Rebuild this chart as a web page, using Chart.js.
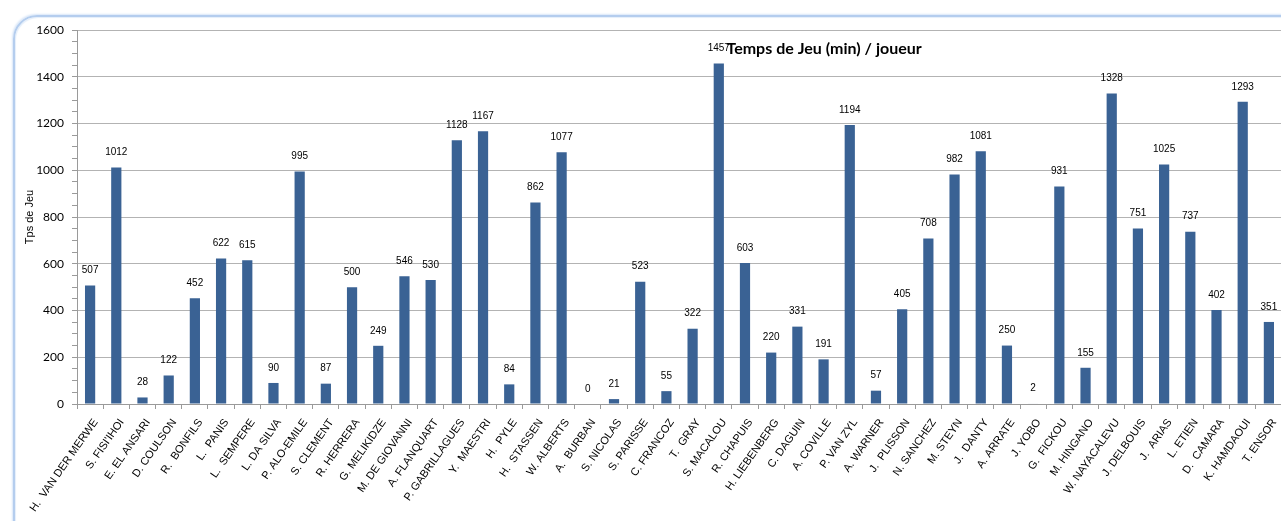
<!DOCTYPE html>
<html>
<head>
<meta charset="utf-8">
<script src="https://cdn.jsdelivr.net/npm/chart.js@4.4.1/dist/chart.umd.min.js"></script>
<style>
  html, body { margin: 0; padding: 0; background: #fff; overflow: hidden; width: 1281px; height: 521px; }
  #frame {
    position: absolute; left: 13px; top: 15px; width: 1320px; height: 560px;
    border: 2px solid #b4cdee; border-radius: 24px;
    box-shadow: -1px -1px 2px #d8e6f8, inset 1px 1px 1px #e4eefa;
  }
  #wrap { position: absolute; left: 0; top: 0; width: 1300px; height: 521px; }
</style>
</head>
<body>
<div id="frame"></div>
<div id="wrap"><canvas id="chart" width="1300" height="521"></canvas></div>
<script>
const players = [
  "H.  VAN DER MERWE", "S. FISI'IHOI", "E. EL ANSARI", "D. COULSON", "R.  BONFILS",
  "L.  PANIS", "L.  SEMPERE", "L. DA SILVA", "P. ALO-EMILE", "S. CLEMENT",
  "R. HERRERA", "G. MELIKIDZE", "M. DE GIOVANNI", "A. FLANQUART", "P. GABRILLAGUES",
  "Y.  MAESTRI", "H.  PYLE", "H.  STASSEN", "W. ALBERTS", "A.  BURBAN",
  "S. NICOLAS", "S. PARISSE", "C. FRANCOZ", "T.  GRAY", "S. MACALOU",
  "R. CHAPUIS", "H. LIEBENBERG", "C. DAGUIN", "A. COVILLE", "P. VAN ZYL",
  "A. WARNER", "J.  PLISSON", "N. SANCHEZ", "M. STEYN", "J.  DANTY",
  "A. ARRATE", "J. YOBO", "G.  FICKOU", "M. HINGANO", "W. NAYACALEVU",
  "J. DELBOUIS", "J.  ARIAS", "L. ETIEN", "D.  CAMARA", "K. HAMDAOUI",
  "T. ENSOR"
];
const minutes = [
  507, 1012, 28, 122, 452,
  622, 615, 90, 995, 87,
  500, 249, 546, 530, 1128,
  1167, 84, 862, 1077, 0,
  21, 523, 55, 322, 1457,
  603, 220, 331, 191, 1194,
  57, 405, 708, 982, 1081,
  250, 2, 931, 155, 1328,
  751, 1025, 737, 402, 1293,
  351
];
const yMax = 1600;
const yMajor = 200;
const yMinor = 50;
const chartTitle = "Temps de Jeu (min) / joueur";
const yTitle = "Tps de Jeu";

const extras = {
  id: "extras",
  afterDatasetsDraw(chart) {
    const ctx = chart.ctx;
    const meta = chart.getDatasetMeta(0);
    ctx.save();
    ctx.font = "10px 'Liberation Sans', Arial, sans-serif";
    ctx.fillStyle = "#000";
    ctx.textAlign = "center";
    ctx.textBaseline = "middle";
    meta.data.forEach((bar, i) => {
      ctx.fillText(String(minutes[i]), bar.x, bar.y - 15);
    });
    ctx.restore();
  },
  afterDraw(chart) {
    const ctx = chart.ctx;
    const a = chart.chartArea;
    const xs = chart.scales.x;
    // slanted category labels
    ctx.save();
    ctx.font = "11px 'Liberation Sans', Arial, sans-serif";
    ctx.fillStyle = "#000";
    ctx.textAlign = "right";
    ctx.textBaseline = "alphabetic";
    players.forEach((name, i) => {
      const x = xs.getPixelForTick(i);
      ctx.save();
      ctx.translate(x + 8, xs.top + 18);
      ctx.rotate(-55 * Math.PI / 180);
      ctx.fillText(name, 0, 0);
      ctx.restore();
    });
    ctx.restore();

    ctx.save();
    ctx.font = "bold 16px Lato, sans-serif";
    ctx.fillStyle = "#000";
    ctx.textAlign = "center";
    ctx.textBaseline = "middle";
    ctx.fillText(chartTitle, a.left + (a.right - a.left) * 0.62, a.top + 19);
    ctx.restore();
  }
};

new Chart(document.getElementById("chart"), {
  type: "bar",
  data: {
    labels: players,
    datasets: [{
      data: minutes,
      backgroundColor: "#3a6294",
      borderWidth: 0,
      barPercentage: 0.39,
      categoryPercentage: 1
    }]
  },
  options: {
    responsive: false,
    animation: false,
    devicePixelRatio: 1,
    layout: { padding: { left: 14, top: 30, right: 18, bottom: 0 } },
    plugins: { legend: { display: false }, tooltip: { enabled: false }, title: { display: false } },
    scales: {
      x: {
        afterFit(scale) { scale.height = 117; },
        border: { color: "#9a9a9a" },
        grid: { offset: true, drawOnChartArea: false, tickLength: 5, tickColor: "#9a9a9a" },
        ticks: { display: false, autoSkip: false }
      },
      y: {
        min: 0, max: yMax,
        afterFit(scale) { scale.width = 63; },
        border: { color: "#9a9a9a" },
        grid: {
          tickLength: 5,
          tickColor: "#9a9a9a",
          color: (c) => (c.tick && c.tick.value % yMajor === 0) ? "#b3b3b3" : "rgba(0,0,0,0)"
        },
        ticks: {
          stepSize: yMinor, autoSkip: false, padding: 8, color: "#000",
          font: { family: "Lato, sans-serif", size: 12 },
          callback: (v) => (v % yMajor === 0 ? v : "")
        },
        title: {
          display: true, text: yTitle, color: "#000",
          font: { family: "'Liberation Sans', Arial, sans-serif", size: 11 },
          padding: { top: 9, bottom: 0 }
        }
      }
    }
  },
  plugins: [extras]
});
</script>
</body>
</html>
